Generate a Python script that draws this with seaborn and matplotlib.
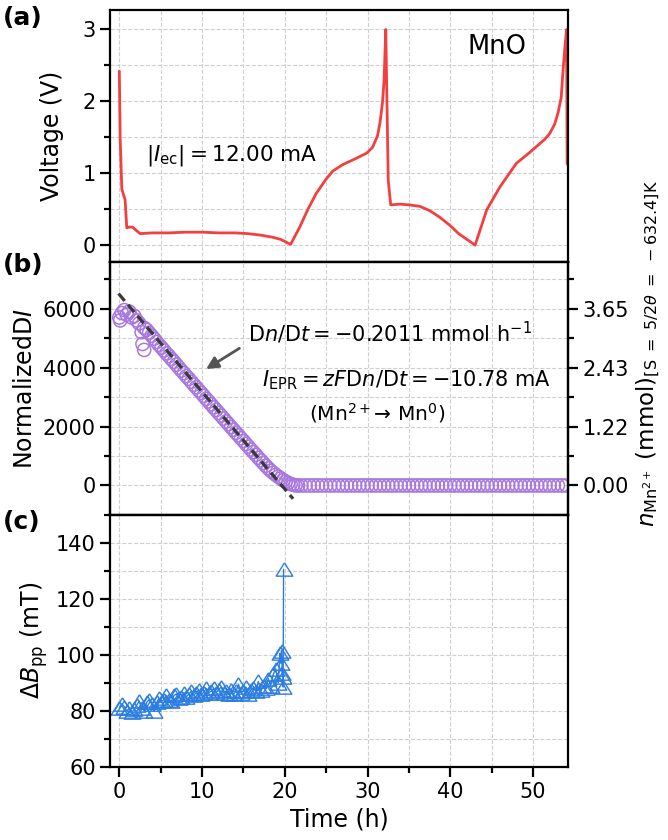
import numpy as np
import pandas as pd
import matplotlib
matplotlib.use("Agg")
import matplotlib.pyplot as plt
from matplotlib.ticker import MultipleLocator, FixedLocator
import seaborn as sns

# colours and sizes
RED = "#f23f3f"
PURPLE = "#a877e0"
BLUE = "#2b7de0"
GRID_COLOR = "#cfcfcf"
TICK_SIZE = 15
LABEL_SIZE = 17
THIN = "\u2009"

# (a) voltage profile
volt_time = [0.0, 0.1, 0.3, 0.7, 0.9, 1.1, 1.6, 2.0, 2.5, 4.0, 6.0, 8.0, 10.0, 12.0, 14.0,
             15.5, 17.0, 18.5, 19.5, 20.7, 21.8, 22.8, 23.8, 25.0, 25.8, 27.0, 28.5,
             29.9, 30.6, 31.2, 31.5, 31.8, 32.0, 32.2, 32.5, 32.8, 33.9, 35.0, 36.3,
             37.5, 38.7, 40.0, 41.0, 42.0, 43.0, 44.4, 46.0, 48.0, 49.5, 50.4, 51.4,
             52.0, 52.6, 53.0, 53.4, 53.6, 53.85, 54.05, 54.12]
voltage = [2.42, 1.50, 0.78, 0.63, 0.24, 0.25, 0.25, 0.21, 0.16, 0.17, 0.17, 0.18, 0.18,
           0.17, 0.17, 0.16, 0.14, 0.11, 0.08, 0.01, 0.25, 0.50, 0.72, 0.92, 1.03, 1.12,
           1.20, 1.28, 1.36, 1.52, 1.70, 1.98, 2.30, 3.00, 0.90, 0.56, 0.57, 0.56, 0.54,
           0.48, 0.39, 0.27, 0.16, 0.08, 0.00, 0.49, 0.81, 1.14, 1.28, 1.37, 1.47, 1.55,
           1.68, 1.83, 2.05, 2.39, 2.75, 3.00, 1.13]

# (b) normalized EPR intensity: decline part
decay_time = [0.0, 0.1, 0.3, 0.6, 0.9, 1.2, 1.5, 1.8, 2.1, 2.4, 2.7, 2.8,
              3.0, 3.0, 3.3, 3.6, 3.9, 4.2, 4.5, 4.8, 5.1, 5.4, 5.7, 6.0,
              6.3, 6.6, 6.9, 7.2, 7.5, 7.8, 8.1, 8.4, 8.7, 9.0, 9.3, 9.6,
              9.9, 10.2, 10.5, 10.8, 11.1, 11.4, 11.7, 12.0, 12.3, 12.6, 12.9, 13.2,
              13.5, 13.8, 14.1, 14.4, 14.7, 15.0, 15.3, 15.6, 15.9, 16.2, 16.5, 16.8,
              17.1, 17.4, 17.7, 18.0, 18.3, 18.6, 18.9, 19.2, 19.5, 19.8, 20.1, 20.4,
              20.7, 21.0, 21.3, 21.6]
decay_intensity = [5700, 5600, 5850, 5950, 5800, 5900, 5700, 5750, 5600, 5500, 5200, 4800,
                   4600, 5350, 5280, 5180, 5080, 4980, 4870, 4770, 4680, 4580, 4480, 4390,
                   4290, 4200, 4100, 4000, 3900, 3810, 3710, 3620, 3520, 3420, 3330, 3230,
                   3140, 3040, 2940, 2850, 2750, 2650, 2560, 2460, 2370, 2270, 2170, 2080,
                   1980, 1890, 1790, 1700, 1600, 1510, 1410, 1320, 1220, 1130, 1040, 940,
                   850, 760, 670, 580, 500, 430, 360, 300, 240, 180, 130, 90,
                   50, 20, 5, 0]
# (b) flat part after full reduction
flat_time = [22.0, 22.5, 23.0, 23.5, 24.0, 24.5, 25.0, 25.5, 26.0, 26.5, 27.0, 27.5, 28.0,
             28.5, 29.0, 29.5, 30.0, 30.5, 31.0, 31.5, 32.0, 32.5, 33.0, 33.5, 34.0, 34.5,
             35.0, 35.5, 36.0, 36.5, 37.0, 37.5, 38.0, 38.5, 39.0, 39.5, 40.0, 40.5, 41.0,
             41.5, 42.0, 42.5, 43.0, 43.5, 44.0, 44.5, 45.0, 45.5, 46.0, 46.5, 47.0, 47.5,
             48.0, 48.5, 49.0, 49.5, 50.0, 50.5, 51.0, 51.5, 52.0, 52.5, 53.0, 53.5, 54.0]
flat_intensity = [0, 0, 0, 0, 0, 0, 0, 0, 0, 0, 0, 0, 0,
                  0, 0, 0, 0, 0, 0, 0, 0, 0, 0, 0, 0, 0,
                  0, 0, 0, 0, 0, 0, 0, 0, 0, 0, 0, 0, 0,
                  0, 0, 0, 0, 0, 0, 0, 0, 0, 0, 0, 0, 0,
                  0, 0, 0, 0, 0, 0, 0, 0, 0, 0, 0, 0, 0]
fit_time = [-0.1, 21.0]
fit_intensity = [6511, -452]
right_ticks = [0, 2000, 4000, 6000]
right_labels = ["0.00", "1.22", "2.43", "3.65"]

# (c) peak-to-peak linewidth
bpp_time = [0.0, 0.3, 0.6, 0.9, 1.2, 1.5, 1.8, 2.1, 2.4, 2.7, 3.0, 3.3, 3.6, 3.9, 4.2,
            4.5, 4.8, 5.1, 5.4, 5.7, 6.0, 6.3, 6.6, 6.9, 7.2, 7.5, 7.8, 8.1, 8.4, 8.7,
            9.0, 9.3, 9.6, 9.9, 10.2, 10.5, 10.8, 11.1, 11.4, 11.7, 12.0, 12.3, 12.6,
            12.9, 13.2, 13.5, 13.8, 14.1, 14.4, 14.7, 15.0, 15.3, 15.6, 15.9, 16.2,
            16.5, 16.8, 17.1, 17.4, 17.7, 18.0, 18.3, 18.6, 18.9, 19.2, 19.4, 19.5,
            19.6, 19.7, 19.75, 19.8, 19.85]
bpp_width = [81.0, 82.5, 81.5, 80.0, 81.0, 79.5, 80.5, 82.0, 83.5, 81.0, 80.0, 83.0, 84.0,
             82.5, 79.8, 83.0, 84.5, 83.5, 84.0, 85.5, 84.0, 83.5, 85.5, 86.0, 84.5, 85.0,
             86.5, 85.0, 86.0, 87.0, 85.5, 86.5, 87.5, 86.0, 86.5, 88.0, 86.5, 87.0, 88.0,
             86.5, 87.5, 88.5, 86.5, 87.0, 86.0, 87.5, 86.0, 87.0, 89.5, 86.5, 87.0, 88.5,
             86.0, 87.5, 88.0, 87.0, 90.5, 87.5, 89.0, 88.0, 91.5, 89.0, 93.0, 95.0, 90.0,
             100.5, 97.0, 101.5, 93.5, 92.0, 88.5, 130.5]

sns.set_style("ticks")
plt.rcParams['font.family'] = ['DejaVu Sans']
plt.rcParams['mathtext.fontset'] = 'dejavusans'
plt.rcParams.update({'text.color': 'black', 'axes.labelcolor': 'black',
                     'xtick.color': 'black', 'ytick.color': 'black',
                     'axes.edgecolor': 'black'})

fig, axes = plt.subplots(3, 1, figsize=(6.68, 8.40), dpi=100, sharex=True)
fig.subplots_adjust(left=0.165, right=0.850, top=0.988, bottom=0.087, hspace=0)
ax_a, ax_b, ax_c = axes

# panel (a)
sns.lineplot(x=volt_time, y=voltage, ax=ax_a, color=RED, linewidth=2, sort=False,
             estimator=None)
ax_a.set_ylim(-0.24, 3.27)
ax_a.set_ylabel("Voltage (V)", fontsize=LABEL_SIZE, labelpad=13)
ax_a.yaxis.set_major_locator(MultipleLocator(1))
ax_a.yaxis.set_minor_locator(MultipleLocator(0.5))
ax_a.text(45.6, 2.75, "MnO", fontsize=18.5, ha="center", va="center")
ax_a.text(3.2, 1.25, r"|$I_{\mathrm{ec}}$|" + THIN + "=" + THIN + "12.00 mA", fontsize=15.5,
          ha="left", va="center")

# panel (b)
epr = pd.DataFrame({"time": decay_time + flat_time,
                    "intensity": decay_intensity + flat_intensity})
sns.scatterplot(data=epr, x="time", y="intensity", ax=ax_b, color=PURPLE, s=90,
                linewidth=1.1, marker="o", zorder=3)
pts = ax_b.collections[-1]
pts.set_facecolor("none")
pts.set_edgecolor(PURPLE)
sns.lineplot(x=fit_time, y=fit_intensity, ax=ax_b, color="#3a3a3a", linewidth=2.3,
             linestyle=(0, (3, 1.6)), zorder=4)
ax_b.set_ylim(-990, 7570)
ax_b.set_ylabel(r"Normalized$\mathrm{D}I$", fontsize=LABEL_SIZE)
ax_b.set_xlabel("")
ax_b.yaxis.set_major_locator(MultipleLocator(2000))
ax_b.yaxis.set_minor_locator(MultipleLocator(1000))
ax_b.text(15.5, 5167, r"D$n$/D$t$" + THIN + "=" + THIN + "−0.2011 mmol h$^{-1}$",
          fontsize=15, ha="left", va="center")
ax_b.text(17.3, 3577, r"$I_{\mathrm{EPR}}$" + THIN + "=" + THIN + r"$zF$D$n$/D$t$" + THIN
          + "=" + THIN + "−10.78 mA", fontsize=15, ha="left", va="center")
ax_b.text(31.1, 2460, r"(Mn$^{2+}$→ Mn$^{0}$)", fontsize=14.5, ha="center", va="center")
ax_b.annotate("", xy=(10.2, 3900), xytext=(14.8, 4704),
              arrowprops=dict(arrowstyle="-|>", color="#555555", lw=2,
                              mutation_scale=18))

ax_r = ax_b.twinx()
ax_r.set_ylim(ax_b.get_ylim())
ax_r.yaxis.set_major_locator(FixedLocator(right_ticks))
ax_r.set_yticklabels(right_labels)
ax_r.yaxis.set_minor_locator(MultipleLocator(1000))
ax_r.set_ylabel(r"$n_{\mathrm{Mn}^{2+}}$ (mmol)"
                r"$_{[\mathrm{S}\ =\ 5/2\theta\ =\ -632.4]\mathrm{K}}$",
                fontsize=16.5, labelpad=4)
ax_r.yaxis.label.set_y(0.64)
ax_r.grid(False)

# panel (c)
tri = [(0, 0.8), (-1, -0.8), (1, -0.8), (0, 0.8)]
sns.lineplot(x=bpp_time, y=bpp_width, ax=ax_c, color=BLUE, linewidth=1, marker=tri,
             markersize=12, markerfacecolor="none", markeredgecolor=BLUE,
             markeredgewidth=1, sort=False, estimator=None)
ax_c.set_ylim(60, 150)
ax_c.set_ylabel(r"$\Delta B_{\mathrm{pp}}$ (mT)", fontsize=LABEL_SIZE)
ax_c.yaxis.set_major_locator(MultipleLocator(20))
ax_c.yaxis.set_minor_locator(MultipleLocator(10))
ax_c.set_xlabel("Time (h)", fontsize=LABEL_SIZE)

ax_c.set_xlim(-1.1, 54.2)
ax_c.xaxis.set_major_locator(MultipleLocator(10))
ax_c.xaxis.set_minor_locator(MultipleLocator(5))

for ax in [ax_a, ax_b, ax_c, ax_r]:
    for sp in ax.spines.values():
        sp.set_visible(True)
        sp.set_linewidth(1.6)
        sp.set_color("black")
    ax.tick_params(which="major", direction="out", length=7, width=1.6,
                   labelsize=TICK_SIZE, color="black", labelcolor="black")
    ax.tick_params(which="minor", direction="out", length=4, width=1.6, color="black")

for ax in [ax_a, ax_b, ax_c]:
    ax.grid(which="both", color=GRID_COLOR, linestyle="--", linewidth=0.8)
    ax.set_axisbelow(True)
    ax.tick_params(axis="x", which="both", top=False)

fig.text(0.005, 0.979, "(a)", fontsize=18, fontweight="bold", ha="left", va="center")
fig.text(0.005, 0.685, "(b)", fontsize=18, fontweight="bold", ha="left", va="center")
fig.text(0.005, 0.379, "(c)", fontsize=18, fontweight="bold", ha="left", va="center")

fig.savefig("out.png", dpi=100)
